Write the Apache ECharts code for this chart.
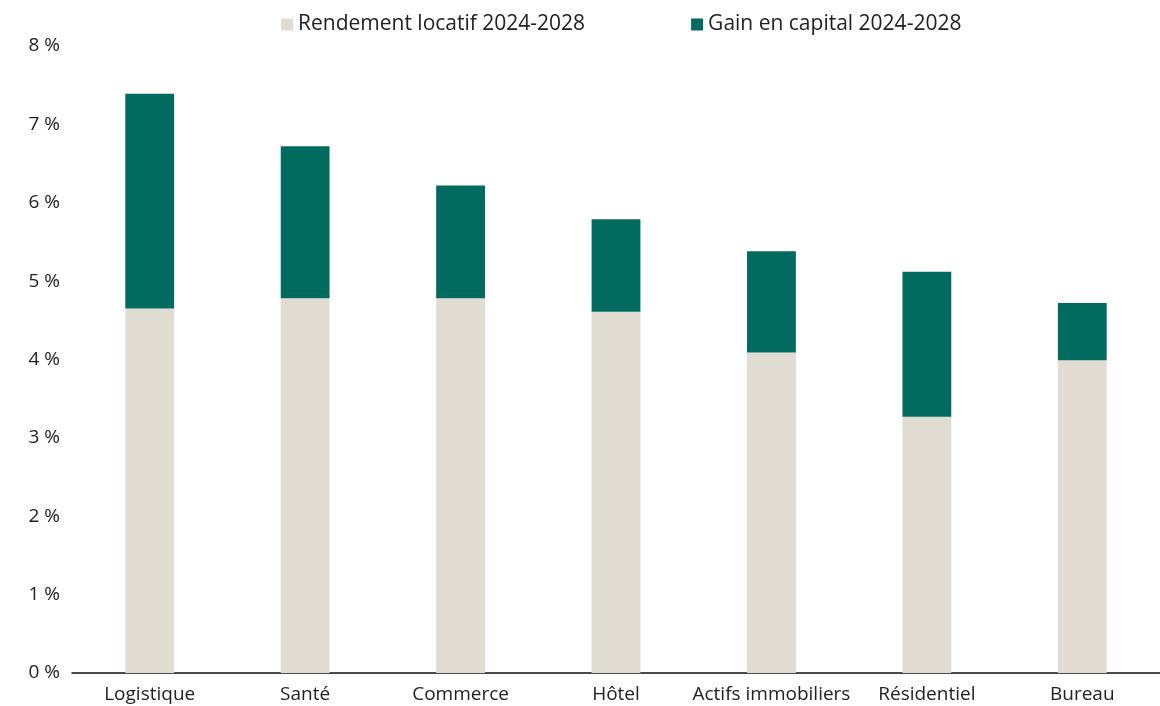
<!DOCTYPE html>
<html><head><meta charset="utf-8">
<script src="https://cdn.jsdelivr.net/npm/echarts@6/dist/echarts.min.js"></script>
<style>html,body{margin:0;padding:0;background:#fff}#c{width:1160px;height:706px}</style>
</head><body><div id="c"></div>
<script>
const categories = ['Logistique','Santé','Commerce','Hôtel','Actifs immobiliers','Résidentiel','Bureau'];
const rendement = [4.65, 4.78, 4.78, 4.61, 4.09, 3.27, 3.99];
const gain = [2.74, 1.94, 1.44, 1.18, 1.29, 1.85, 0.73];
const seriesNames = ['Rendement locatif 2024-2028','Gain en capital 2024-2028'];
const yTicks = [0,1,2,3,4,5,6,7,8];

const chart = echarts.init(document.getElementById('c'));
const font = '"Open Sans", sans-serif';
chart.setOption({
  animation: false,
  textStyle: {fontFamily: font},
  legend: {
    top: 9, left: 276, itemGap: 106, itemWidth: 12, itemHeight: 12,
    icon: 'rect',
    textStyle: {fontFamily: font, fontSize: 21, color: '#222'},
    data: seriesNames
  },
  grid: {left: 72, right: -5, top: 46, bottom: 33, containLabel: false},
  xAxis: {
    type: 'category', data: categories,
    axisLine: {lineStyle: {color: '#111', width: 1.5}},
    axisTick: {show: false},
    axisLabel: {interval: 0, fontFamily: font, fontSize: 19, color: '#222', margin: 12}
  },
  yAxis: {
    type: 'value', min: yTicks[0], max: yTicks[yTicks.length-1], interval: 1,
    splitLine: {show: false},
    axisLine: {show: false}, axisTick: {show: false},
    axisLabel: {fontFamily: font, fontSize: 19, color: '#222', margin: 12, formatter: v => v + ' %'}
  },
  series: [
    {name: seriesNames[0], type: 'bar', stack: 's', data: rendement, barWidth: '31.4%', itemStyle: {color: '#E0DCD2'}},
    {name: seriesNames[1], type: 'bar', stack: 's', data: gain, barWidth: '31.4%', itemStyle: {color: '#006B5E'}}
  ]
});
</script></body></html>
